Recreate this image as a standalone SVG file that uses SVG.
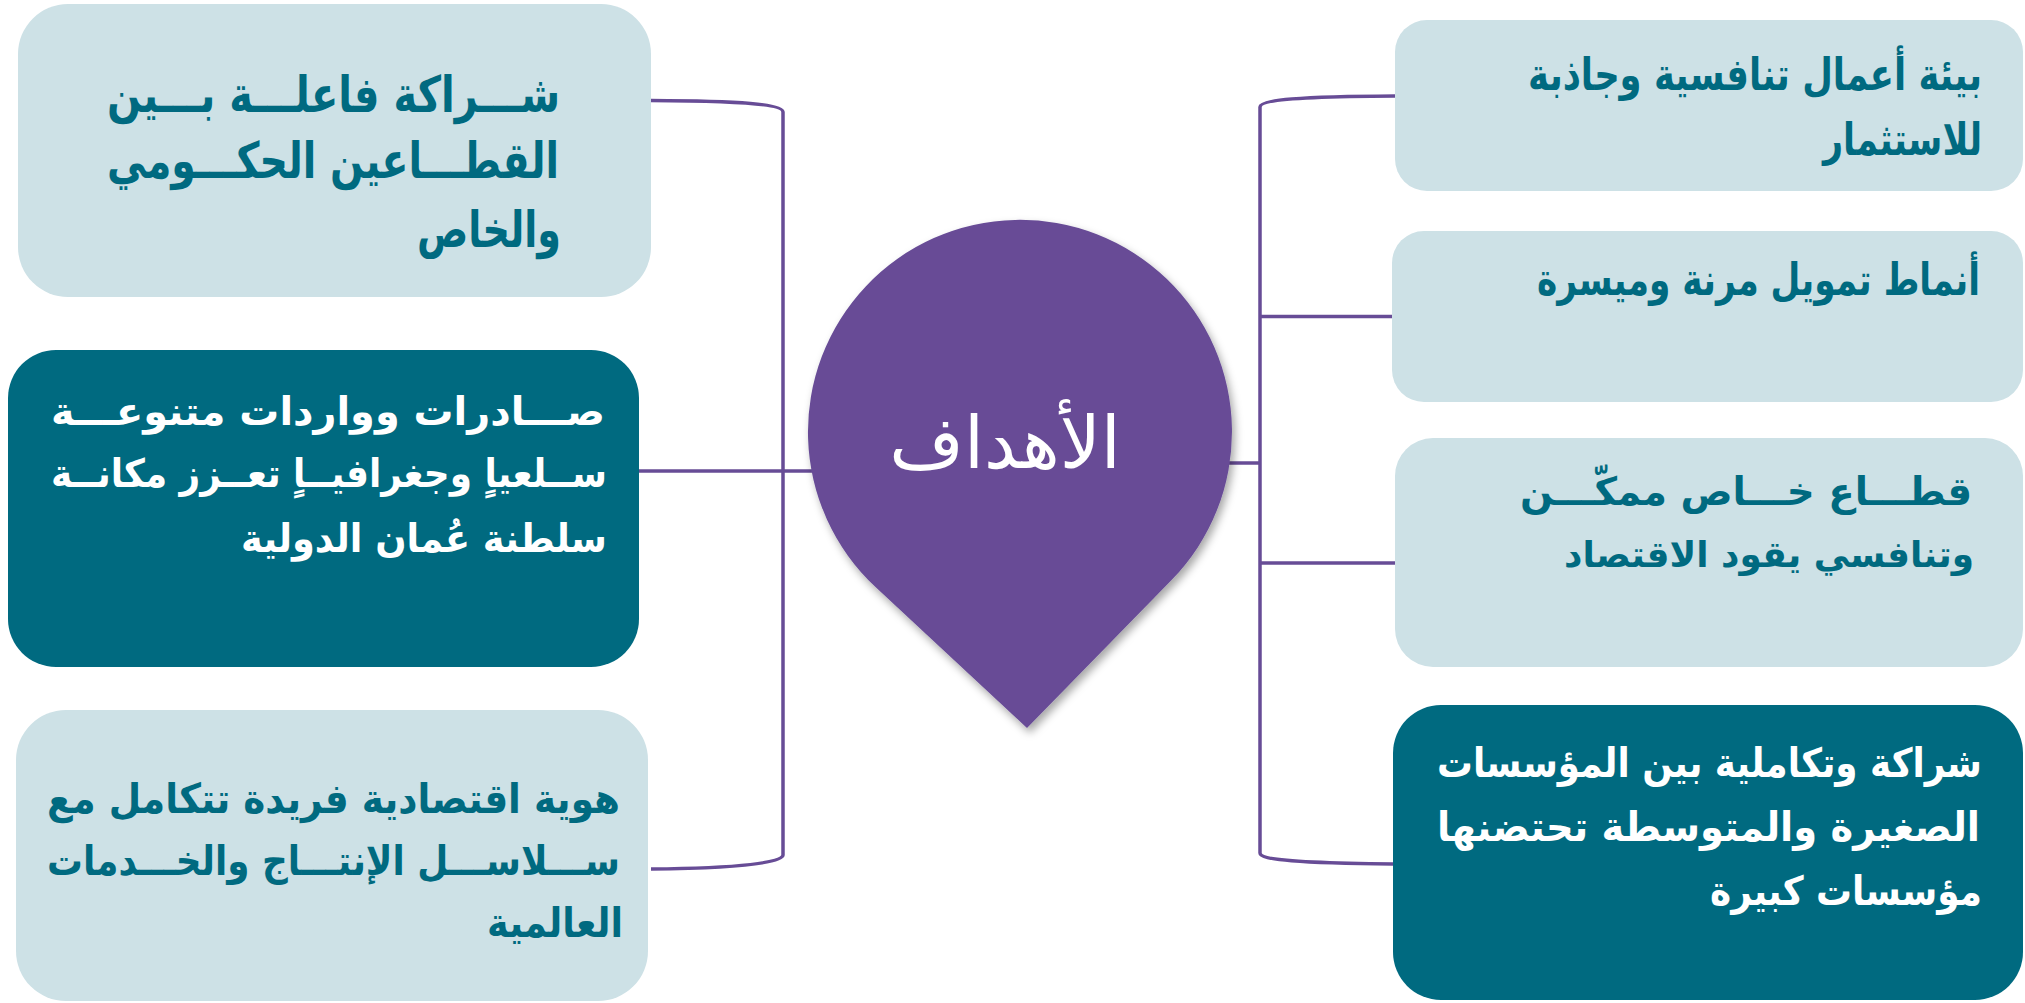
<svg xmlns="http://www.w3.org/2000/svg" width="2025" height="1003" viewBox="0 0 2025 1003">
<style>
.light{fill:#cde1e6}
.dark{fill:#006a80}
.conn{fill:none;stroke:#674c96;stroke-width:3.5}
.t{font-family:"DejaVu Sans",sans-serif;font-weight:bold;text-anchor:end}
.tl{fill:#006a80}
.tw{fill:#ffffff}
.title{font-family:"DejaVu Sans",sans-serif;fill:#ffffff;font-size:72px;text-anchor:middle}
</style>
<defs>
<filter id="sh" x="-20%" y="-20%" width="140%" height="140%">
<feDropShadow dx="3" dy="5" stdDeviation="4" flood-color="#000" flood-opacity="0.35"/>
</filter>
</defs>
<rect width="2025" height="1003" fill="#ffffff"/>
<g id="connectors">
<path class="conn" d="M651,100.5 C740,101 783,104 783,112 V855 C783,863 740,868 651,869"/>
<path class="conn" d="M639,471 H815"/>
<path class="conn" d="M1395,96 C1300,96.5 1260,100 1260,107 V853 C1260,860 1300,863 1393,864"/>
<path class="conn" d="M1260,316.5 H1393"/>
<path class="conn" d="M1200,463 H1260"/>
<path class="conn" d="M1260,563 H1395"/>
</g>
<g id="node-l1">
<rect class="light" x="18" y="4" width="633" height="293" rx="50"/>
<text class="t tl" font-size="39" x="560" y="0" transform="translate(0,112) scale(1,1.28)" textLength="453" lengthAdjust="spacingAndGlyphs">شـــراكة فاعلـــة بـــين</text>
<text class="t tl" font-size="39" x="559" y="0" transform="translate(0,178) scale(1,1.28)" textLength="452" lengthAdjust="spacingAndGlyphs">القطـــاعين الحكـــومي</text>
<text class="t tl" font-size="39" x="561" y="0" transform="translate(0,247) scale(1,1.28)" textLength="144" lengthAdjust="spacingAndGlyphs">والخاص</text>
</g>
<g id="node-l2">
<rect class="dark" x="8" y="350" width="631" height="317" rx="48"/>
<text class="t tw" font-size="37" x="605" y="0" transform="translate(0,425) scale(1,1.06)" textLength="554" lengthAdjust="spacingAndGlyphs">صـــادرات وواردات متنوعـــة</text>
<text class="t tw" font-size="37" x="607" y="0" transform="translate(0,487) scale(1,1.06)" textLength="556" lengthAdjust="spacingAndGlyphs">ســلعياٍ وجغرافيــاٍ تعــزز مكانــة</text>
<text class="t tw" font-size="37" x="607" y="0" transform="translate(0,552) scale(1,1.06)" textLength="366" lengthAdjust="spacingAndGlyphs">سلطنة عُمان الدولية</text>
</g>
<g id="node-l3">
<rect class="light" x="16" y="710" width="632" height="291" rx="50"/>
<text class="t tl" font-size="37.5" x="620" y="0" transform="translate(0,813) scale(1,1.1)" textLength="573" lengthAdjust="spacingAndGlyphs">هوية اقتصادية فريدة تتكامل مع</text>
<text class="t tl" font-size="37.5" x="620" y="0" transform="translate(0,875) scale(1,1.1)" textLength="573" lengthAdjust="spacingAndGlyphs">ســـلاســـل الإنتـــاج والخـــدمات</text>
<text class="t tl" font-size="37.5" x="623" y="0" transform="translate(0,937) scale(1,1.1)" textLength="136" lengthAdjust="spacingAndGlyphs">العالمية</text>
</g>
<g id="node-r1">
<rect class="light" x="1395" y="20" width="628" height="171" rx="32"/>
<text class="t tl" font-size="35" x="1982" y="0" transform="translate(0,90) scale(1,1.28)" textLength="454" lengthAdjust="spacingAndGlyphs">بيئة أعمال تنافسية وجاذبة</text>
<text class="t tl" font-size="35" x="1982" y="0" transform="translate(0,155) scale(1,1.28)" textLength="159" lengthAdjust="spacingAndGlyphs">للاستثمار</text>
</g>
<g id="node-r2">
<rect class="light" x="1392" y="231" width="631" height="171" rx="32"/>
<text class="t tl" font-size="34.5" x="1980" y="0" transform="translate(0,295) scale(1,1.28)" textLength="443" lengthAdjust="spacingAndGlyphs">أنماط تمويل مرنة وميسرة</text>
</g>
<g id="node-r3">
<rect class="light" x="1395" y="438" width="628" height="229" rx="38"/>
<text class="t tl" font-size="39" x="1972" y="505" textLength="452" lengthAdjust="spacingAndGlyphs">قطـــاع خـــاص ممكّـــن</text>
<text class="t tl" font-size="36" x="1974" y="567" textLength="410" lengthAdjust="spacingAndGlyphs">وتنافسي يقود الاقتصاد</text>
</g>
<g id="node-r4">
<rect class="dark" x="1393" y="705" width="630" height="295" rx="48"/>
<text class="t tw" font-size="36" x="1982" y="0" transform="translate(0,777) scale(1,1.12)" textLength="545" lengthAdjust="spacingAndGlyphs">شراكة وتكاملية بين المؤسسات</text>
<text class="t tw" font-size="36" x="1980" y="0" transform="translate(0,841) scale(1,1.12)" textLength="543" lengthAdjust="spacingAndGlyphs">الصغيرة والمتوسطة تحتضنها</text>
<text class="t tw" font-size="36" x="1982" y="0" transform="translate(0,905) scale(1,1.12)" textLength="272" lengthAdjust="spacingAndGlyphs">مؤسسات كبيرة</text>
</g>
<g id="node-center">
<path d="M1027,728 L875.5,587 A212,212 0 1 1 1171.6,580 Z" fill="#674c96" filter="url(#sh)"/>
<text class="title" x="1005" y="468">الأهداف</text>
</g>
</svg>
